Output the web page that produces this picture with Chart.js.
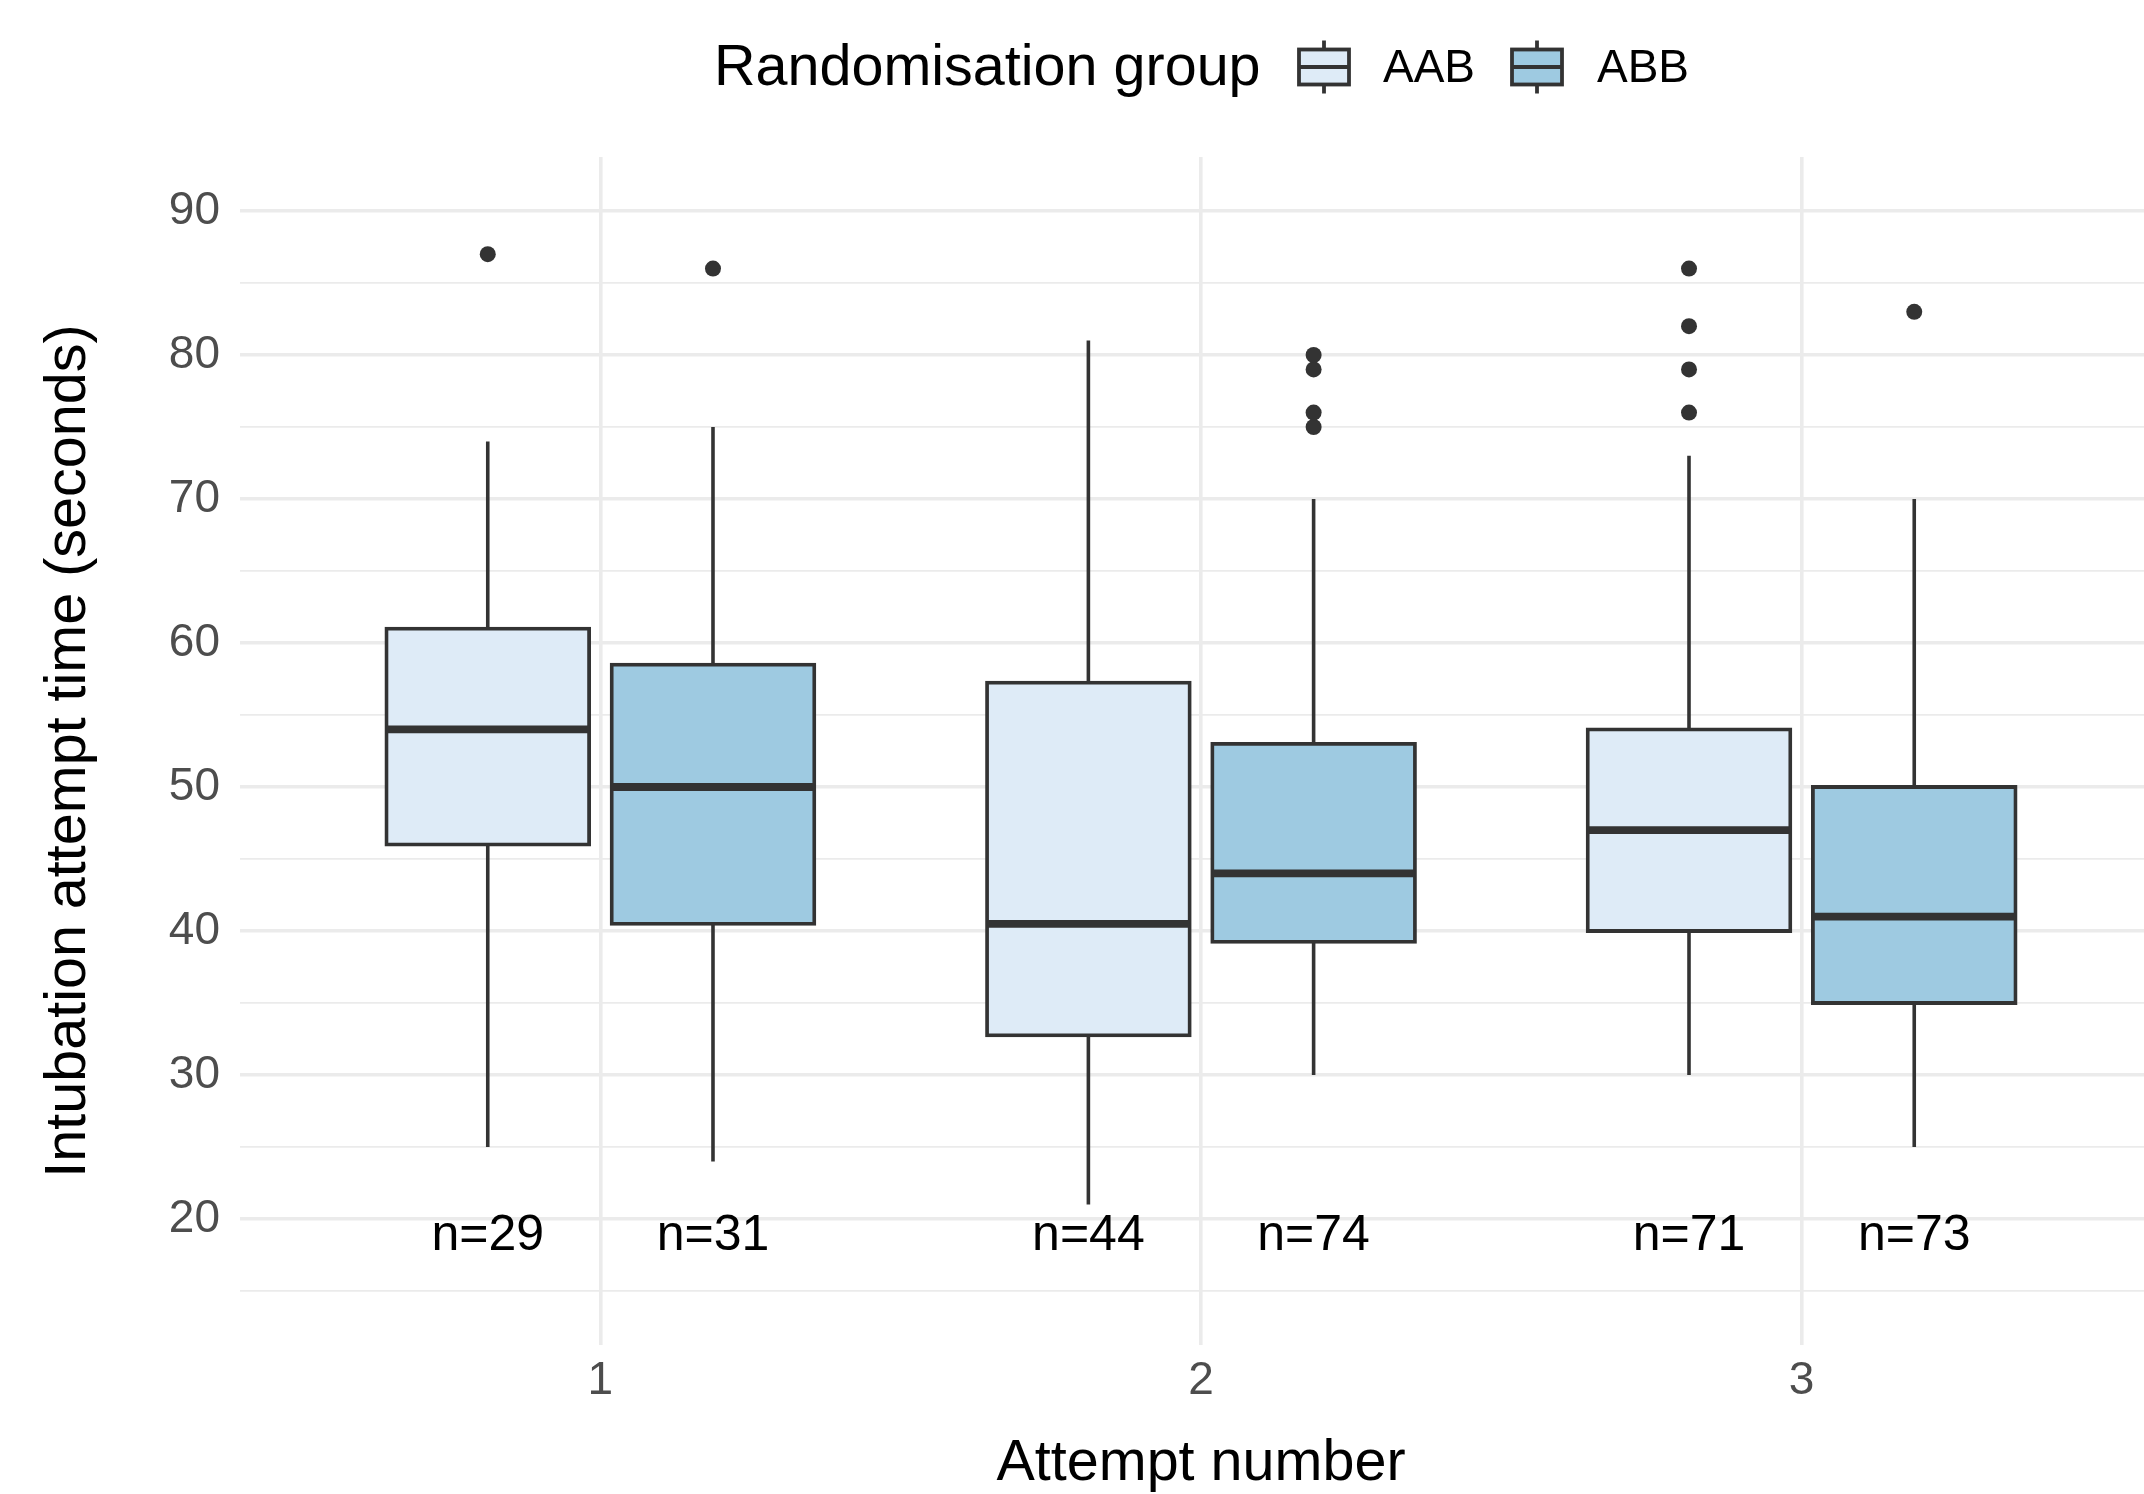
<!DOCTYPE html>
<html>
<head>
<meta charset="utf-8">
<title>Intubation attempt time by attempt number</title>
<script src="https://cdn.jsdelivr.net/npm/chart.js@4.4.1/dist/chart.umd.min.js"></script>
<style>
  html, body { margin: 0; padding: 0; background: #fff; overflow: hidden; }
  #chart { display: block; }
</style>
</head>
<body>
<!-- the panel runs a little past the right edge, as in the original export -->
<canvas id="chart" width="2170" height="1494"></canvas>
<script>
// ---- data ----
const attempts = [1, 2, 3];
const groups = ['AAB', 'ABB'];
const xTicks = [1, 2, 3];
const yMajorTicks = [20, 30, 40, 50, 60, 70, 80, 90];
const yMinorTicks = [15, 25, 35, 45, 55, 65, 75, 85];

const aabLower = [25, 21, 30];
const aabQ1 = [46, 32.75, 40];
const aabMedian = [54, 40.5, 47];
const aabQ3 = [61, 57.25, 54];
const aabUpper = [74, 81, 73];
const aabOutliers = [[87], [], [76, 79, 82, 86]];
const aabN = [29, 44, 71];

const abbLower = [24, 30, 25];
const abbQ1 = [40.5, 39.25, 35];
const abbMedian = [50, 44, 41];
const abbQ3 = [58.5, 53, 50];
const abbUpper = [75, 70, 70];
const abbOutliers = [[86], [75, 76, 79, 80], [83]];
const abbN = [31, 74, 73];

// ---- look ----
const fills = ['#DEEBF7', '#9ECAE1'];
const ink = '#333333';
const gridColor = '#EBEBEB';
const dodge = [-0.1875, 0.1875];
const boxWidth = 0.3375;
const nLabelY = 18.8;
const fontFamily = '"Liberation Sans", Arial, Helvetica, sans-serif';

const stats = [
  { lower: aabLower, q1: aabQ1, median: aabMedian, q3: aabQ3, upper: aabUpper, outliers: aabOutliers, n: aabN },
  { lower: abbLower, q1: abbQ1, median: abbMedian, q3: abbQ3, upper: abbUpper, outliers: abbOutliers, n: abbN }
];

Chart.defaults.font.family = fontFamily;

function halfBoxPx(ctx) {
  const xs = ctx.chart.scales.x;
  return Math.abs(xs.getPixelForValue(boxWidth / 2) - xs.getPixelForValue(0));
}

let datasets = [];
stats.forEach((s, g) => {
  // whiskers (drawn under the boxes)
  datasets.push({
    type: 'bar',
    label: groups[g] + ' whisker',
    data: attempts.map((a, i) => ({ x: a + dodge[g], y: [s.lower[i], s.upper[i]] })),
    backgroundColor: ink,
    borderWidth: 0,
    maxBarThickness: 3.6,
    grouped: false,
    categoryPercentage: 1,
    barPercentage: 0.9,
    order: 4
  });
  // boxes, border centred on the hinge like ggplot
  datasets.push({
    type: 'bar',
    label: groups[g],
    data: attempts.map((a, i) => ({ x: a + dodge[g], y: [s.q1[i], s.q3[i]] })),
    backgroundColor: fills[g],
    borderColor: ink,
    borderWidth: 3.8,
    borderSkipped: false,
    inflateAmount: 1.9,
    grouped: false,
    categoryPercentage: 1,
    barPercentage: 0.9,
    order: 3
  });
  // medians
  datasets.push({
    type: 'scatter',
    label: groups[g] + ' median',
    data: attempts.map((a, i) => ({ x: a + dodge[g], y: s.median[i] })),
    pointStyle: 'line',
    pointRadius: halfBoxPx,
    pointHoverRadius: halfBoxPx,
    pointBorderWidth: 7.8,
    pointBorderColor: ink,
    order: 2
  });
  // outliers
  let pts = [];
  attempts.forEach((a, i) => {
    s.outliers[i].forEach(v => pts.push({ x: a + dodge[g], y: v }));
  });
  datasets.push({
    type: 'scatter',
    label: groups[g] + ' outliers',
    data: pts,
    pointRadius: 8,
    pointHoverRadius: 8,
    pointBackgroundColor: ink,
    pointBorderWidth: 0,
    order: 1
  });
});

// n= labels under each box
const countLabels = {
  id: 'countLabels',
  afterDatasetsDraw(chart) {
    const ctx = chart.ctx;
    const xs = chart.scales.x, ys = chart.scales.y;
    ctx.save();
    ctx.font = '50px ' + fontFamily;
    ctx.fillStyle = '#000';
    ctx.textAlign = 'center';
    ctx.textBaseline = 'middle';
    stats.forEach((s, g) => {
      attempts.forEach((a, i) => {
        ctx.fillText('n=' + s.n[i], xs.getPixelForValue(a + dodge[g]), ys.getPixelForValue(nLabelY));
      });
    });
    ctx.restore();
  }
};

// ggplot-style legend: title on the left, box keys in one row
const groupLegend = {
  id: 'groupLegend',
  afterDraw(chart) {
    const ctx = chart.ctx;
    const keys = [{ x: 1299, text: 1383 }, { x: 1512, text: 1597 }];
    const cy = 67;
    ctx.save();
    ctx.textBaseline = 'middle';
    ctx.textAlign = 'left';
    ctx.fillStyle = '#000';
    ctx.font = '57.5px ' + fontFamily;
    ctx.fillText('Randomisation group', 714, 69);
    ctx.font = '46px ' + fontFamily;
    keys.forEach((k, g) => {
      const w = 50, cx = k.x + w / 2;
      ctx.strokeStyle = ink;
      ctx.lineWidth = 3.8;
      ctx.beginPath();
      ctx.moveTo(cx, cy - 26.5);
      ctx.lineTo(cx, cy + 26.5);
      ctx.stroke();
      ctx.fillStyle = fills[g];
      ctx.fillRect(k.x, cy - 17.5, w, 35);
      ctx.strokeRect(k.x, cy - 17.5, w, 35);
      ctx.beginPath();
      ctx.moveTo(k.x, cy);
      ctx.lineTo(k.x + w, cy);
      ctx.stroke();
      ctx.fillStyle = '#000';
      ctx.fillText(groups[g], k.text, 69);
    });
    ctx.restore();
  }
};

new Chart(document.getElementById('chart'), {
  type: 'bar',
  data: { datasets: datasets },
  plugins: [countLabels, groupLegend],
  options: {
    responsive: false,
    animation: false,
    events: [],
    devicePixelRatio: 1,
    layout: { padding: { top: 157, right: 0, bottom: 0, left: 0 } },
    plugins: {
      legend: { display: false },
      tooltip: { enabled: false }
    },
    scales: {
      x: {
        type: 'linear',
        min: 0.4,
        max: 3.6,
        offset: false,
        grid: { offset: false, color: gridColor, lineWidth: 3.6, drawTicks: false },
        border: { display: false },
        afterBuildTicks: axis => { axis.ticks = xTicks.map(v => ({ value: v })); },
        afterFit: axis => { axis.height = 149; },
        ticks: {
          color: '#4D4D4D',
          font: { size: 46 },
          padding: 9,
          maxRotation: 0,
          autoSkip: false,
          callback: v => String(v)
        },
        title: {
          display: true,
          text: 'Attempt number',
          color: '#000',
          font: { size: 57.5, lineHeight: 1 },
          padding: { top: 0, bottom: 1.5 }
        }
      },
      y: {
        type: 'linear',
        min: 11.25,
        max: 93.75,
        beginAtZero: false,
        grid: {
          color: gridColor,
          drawTicks: false,
          lineWidth: c => (yMajorTicks.includes(c.tick.value) ? 3.6 : 1.8)
        },
        border: { display: false },
        afterBuildTicks: axis => {
          axis.ticks = yMinorTicks.concat(yMajorTicks).sort((a, b) => a - b).map(v => ({ value: v }));
        },
        afterFit: axis => { axis.width = 240; },
        ticks: {
          color: '#4D4D4D',
          font: { size: 46 },
          padding: 20,
          autoSkip: false,
          callback: v => (yMajorTicks.includes(v) ? String(v) : '')
        },
        title: {
          display: true,
          text: 'Intubation attempt time (seconds)',
          color: '#000',
          font: { size: 57.5, lineHeight: 1.2 },
          padding: { top: 35, bottom: 0 }
        }
      }
    }
  }
});
</script>
</body>
</html>
